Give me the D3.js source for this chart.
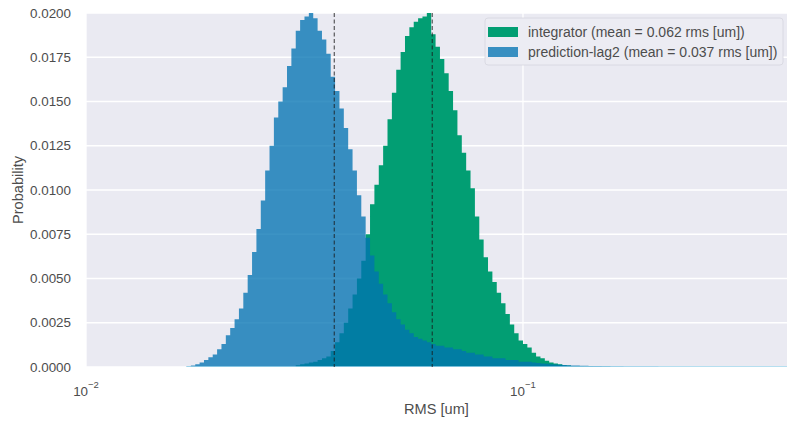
<!DOCTYPE html>
<html>
<head>
<meta charset="utf-8">
<script src="https://cdn.jsdelivr.net/npm/d3@7"></script>
<style>
  body { margin: 0; background: #fff; }
  text { font-family: "Liberation Sans", Arial, sans-serif; fill: #4d4d4d; }
</style>
</head>
<body>
<svg id="chart"></svg>
<script>
// data
// bins are log-spaced: edge k = 10^(binLogStart + k*binLogStep)
const binLogStart = -2
const binLogStep = 0.01

// prediction-lag2, first bin index 23
const blueFirstBin = 23
const blueValues = [
  0.00003, 0.00008, 0.00015, 0.00025, 0.0004, 0.00055, 0.0007, 0.001,
  0.0013, 0.0018, 0.0022, 0.0027, 0.0033, 0.0042, 0.0052, 0.0065, 0.0078, 0.0094,
  0.0111, 0.0125, 0.0141, 0.0150, 0.0158, 0.0170, 0.0180, 0.0190, 0.0196, 0.0198,
  0.0200, 0.0197, 0.0190, 0.0185, 0.0177, 0.0164, 0.0156, 0.0146, 0.0135, 0.0123,
  0.0111, 0.0097, 0.0085, 0.0073, 0.0063, 0.0054, 0.0047, 0.0041, 0.0036, 0.0031,
  0.0027, 0.0024, 0.0021, 0.0019, 0.0017, 0.0016, 0.0015, 0.0014, 0.0013, 0.0012,
  0.0012, 0.0011, 0.0011, 0.0010, 0.0010, 0.0009, 0.0008, 0.0008, 0.0007, 0.0007,
  0.0006, 0.0006, 0.0005, 0.0005, 0.0005, 0.0004, 0.0004, 0.0004, 0.0003, 0.0003,
  0.0003, 0.00025, 0.00022, 0.0002, 0.00018, 0.00016, 0.00014, 0.00013, 0.00012, 0.0001,
  0.00009, 0.00008, 0.00007, 0.00007, 0.00006, 0.00005, 0.00005, 0.00004, 0.00004, 0.00003,
  0.00003, 0.00003, 0.00002, 0.00002, 0.00002, 0.00002, 0.00001, 0.00001, 0.00001, 0.00001
]

// integrator, first bin index 48
const greenFirstBin = 48
const greenValues = [
  0.0001, 0.00015, 0.0002,
  0.00025, 0.0003, 0.0004, 0.0005, 0.0006, 0.0009, 0.0014, 0.0019, 0.0025, 0.0033,
  0.0041, 0.0050, 0.0060, 0.0075, 0.0092, 0.0103, 0.0114, 0.0125, 0.0140, 0.0155,
  0.0168, 0.0178, 0.0187, 0.0192, 0.0195, 0.0197, 0.0198, 0.0200, 0.0188, 0.0181,
  0.0174, 0.0166, 0.0156, 0.0145, 0.0131, 0.0121, 0.0111, 0.0101, 0.0085, 0.0072,
  0.0062, 0.0054, 0.0048, 0.0042, 0.0036, 0.0030, 0.0024, 0.0019, 0.0015, 0.0013,
  0.0011, 0.0008, 0.0006, 0.0005, 0.00035, 0.00025, 0.0002, 0.00015, 0.0001, 0.00008,
  0.00006, 0.00005, 0.00004, 0.00003, 0.00003, 0.00002, 0.00002, 0.00002, 0.00001
]

const means = [0.062, 0.037]
const legendLabels = [
  "integrator (mean = 0.062 rms [um])",
  "prediction-lag2 (mean = 0.037 rms [um])"
]
const yTicks = [0, 0.0025, 0.005, 0.0075, 0.01, 0.0125, 0.015, 0.0175, 0.02]
const xTicks = [0.01, 0.1]
const xTickExp = ["\u22122", "\u22121"]

// constants
const width = 790
const height = 423
const margin = { left: 86, right: 3, top: 13, bottom: 56 }
const visWidth = width - margin.left - margin.right
const visHeight = height - margin.top - margin.bottom

const green = "#029e73"
const blue = "#0173b2"
const blueAlpha = 0.77

const svg = d3.select('svg#chart').attr('width', width).attr('height', height)
const g = svg.append('g').attr('transform', 'translate(' + margin.left + ', ' + margin.top + ')')

const x = d3.scaleLog().domain([0.01, 0.402]).range([0, visWidth])
const y = d3.scaleLinear().domain([0, 0.02]).range([visHeight, 0])

// background + grid
g.append('rect').attr('width', visWidth).attr('height', visHeight).attr('fill', '#eaeaf2')
g.selectAll('.hgrid').data(yTicks).enter().append('line')
  .attr('x1', 0).attr('x2', visWidth)
  .attr('y1', d => y(d)).attr('y2', d => y(d))
  .attr('stroke', '#fff').attr('stroke-width', 1.3)
g.selectAll('.vgrid').data(xTicks).enter().append('line')
  .attr('x1', d => x(d)).attr('x2', d => x(d))
  .attr('y1', 0).attr('y2', visHeight)
  .attr('stroke', '#fff').attr('stroke-width', 1.3)

g.append('clipPath').attr('id', 'clip').append('rect')
  .attr('width', visWidth).attr('height', visHeight)

// turn a list of bin values into step points
function toSteps(first, values) {
  const pts = values.map((v, i) => ({ x: Math.pow(10, binLogStart + (first + i) * binLogStep), v: v }))
  pts.push({ x: Math.pow(10, binLogStart + (first + values.length) * binLogStep), v: 0 })
  return pts
}

const area = d3.area()
  .curve(d3.curveStepAfter)
  .x(d => x(d.x))
  .y0(visHeight)
  .y1(d => y(d.v))

const hist = g.append('g').attr('clip-path', 'url(#clip)')
hist.append('path').datum(toSteps(greenFirstBin, greenValues))
  .attr('d', area).attr('fill', green)
hist.append('path').datum(toSteps(blueFirstBin, blueValues))
  .attr('d', area).attr('fill', blue).attr('fill-opacity', blueAlpha)

// thin light line along the base of the histograms
hist.append('line')
  .attr('x1', x(Math.pow(10, binLogStart + blueFirstBin * binLogStep))).attr('x2', visWidth)
  .attr('y1', visHeight).attr('y2', visHeight)
  .attr('stroke', '#9fd6ec').attr('stroke-width', 1.5)

// mean lines
g.selectAll('.mean').data(means).enter().append('line')
  .attr('x1', d => x(d)).attr('x2', d => x(d))
  .attr('y1', 0).attr('y2', visHeight)
  .attr('stroke', '#1a1a1a').attr('stroke-opacity', 0.7)
  .attr('stroke-width', 1.2).attr('stroke-dasharray', '4,2.5')

// y tick labels
g.selectAll('.ylab').data(yTicks).enter().append('text')
  .attr('x', -15).attr('y', d => y(d)).attr('dy', '0.35em')
  .attr('text-anchor', 'end').style('font-size', '13.4px')
  .text(d3.format('.4f'))

// x tick labels 10^n
const xt = g.selectAll('.xlab').data(xTicks).enter().append('text')
  .attr('x', d => x(d)).attr('y', visHeight + 29)
  .attr('text-anchor', 'middle').style('font-size', '13.4px')
xt.append('tspan').text('10')
xt.append('tspan').attr('dy', -8).style('font-size', '9.5px').text((d, i) => xTickExp[i])

// axis labels
g.append('text').attr('x', visWidth / 2).attr('y', visHeight + 47)
  .attr('text-anchor', 'middle').style('font-size', '14.6px').text('RMS [um]')
g.append('text')
  .attr('transform', 'translate(' + (18 - margin.left) + ',' + visHeight / 2 + ') rotate(-90)')
  .attr('dy', '0.35em')
  .attr('text-anchor', 'middle').style('font-size', '14.6px').text('Probability')

// legend
const legend = g.append('g').attr('transform', 'translate(' + (485 - margin.left) + ',' + (18 - margin.top) + ')')
legend.append('rect').attr('width', 298).attr('height', 47).attr('rx', 3)
  .attr('fill', '#ececf3').attr('stroke', '#d6d6de').attr('stroke-width', 0.8)
const legendColors = [green, blue]
const legendOpacity = [1, blueAlpha]
legendLabels.forEach(function (lab, i) {
  const row = legend.append('g').attr('transform', 'translate(0,' + (14 + i * 20) + ')')
  row.append('rect').attr('x', 3).attr('y', -5).attr('width', 30).attr('height', 10)
    .attr('fill', legendColors[i]).attr('fill-opacity', legendOpacity[i])
  row.append('text').attr('x', 43).attr('dy', '0.35em')
    .style('font-size', '14px').text(lab)
})
</script>
</body>
</html>
